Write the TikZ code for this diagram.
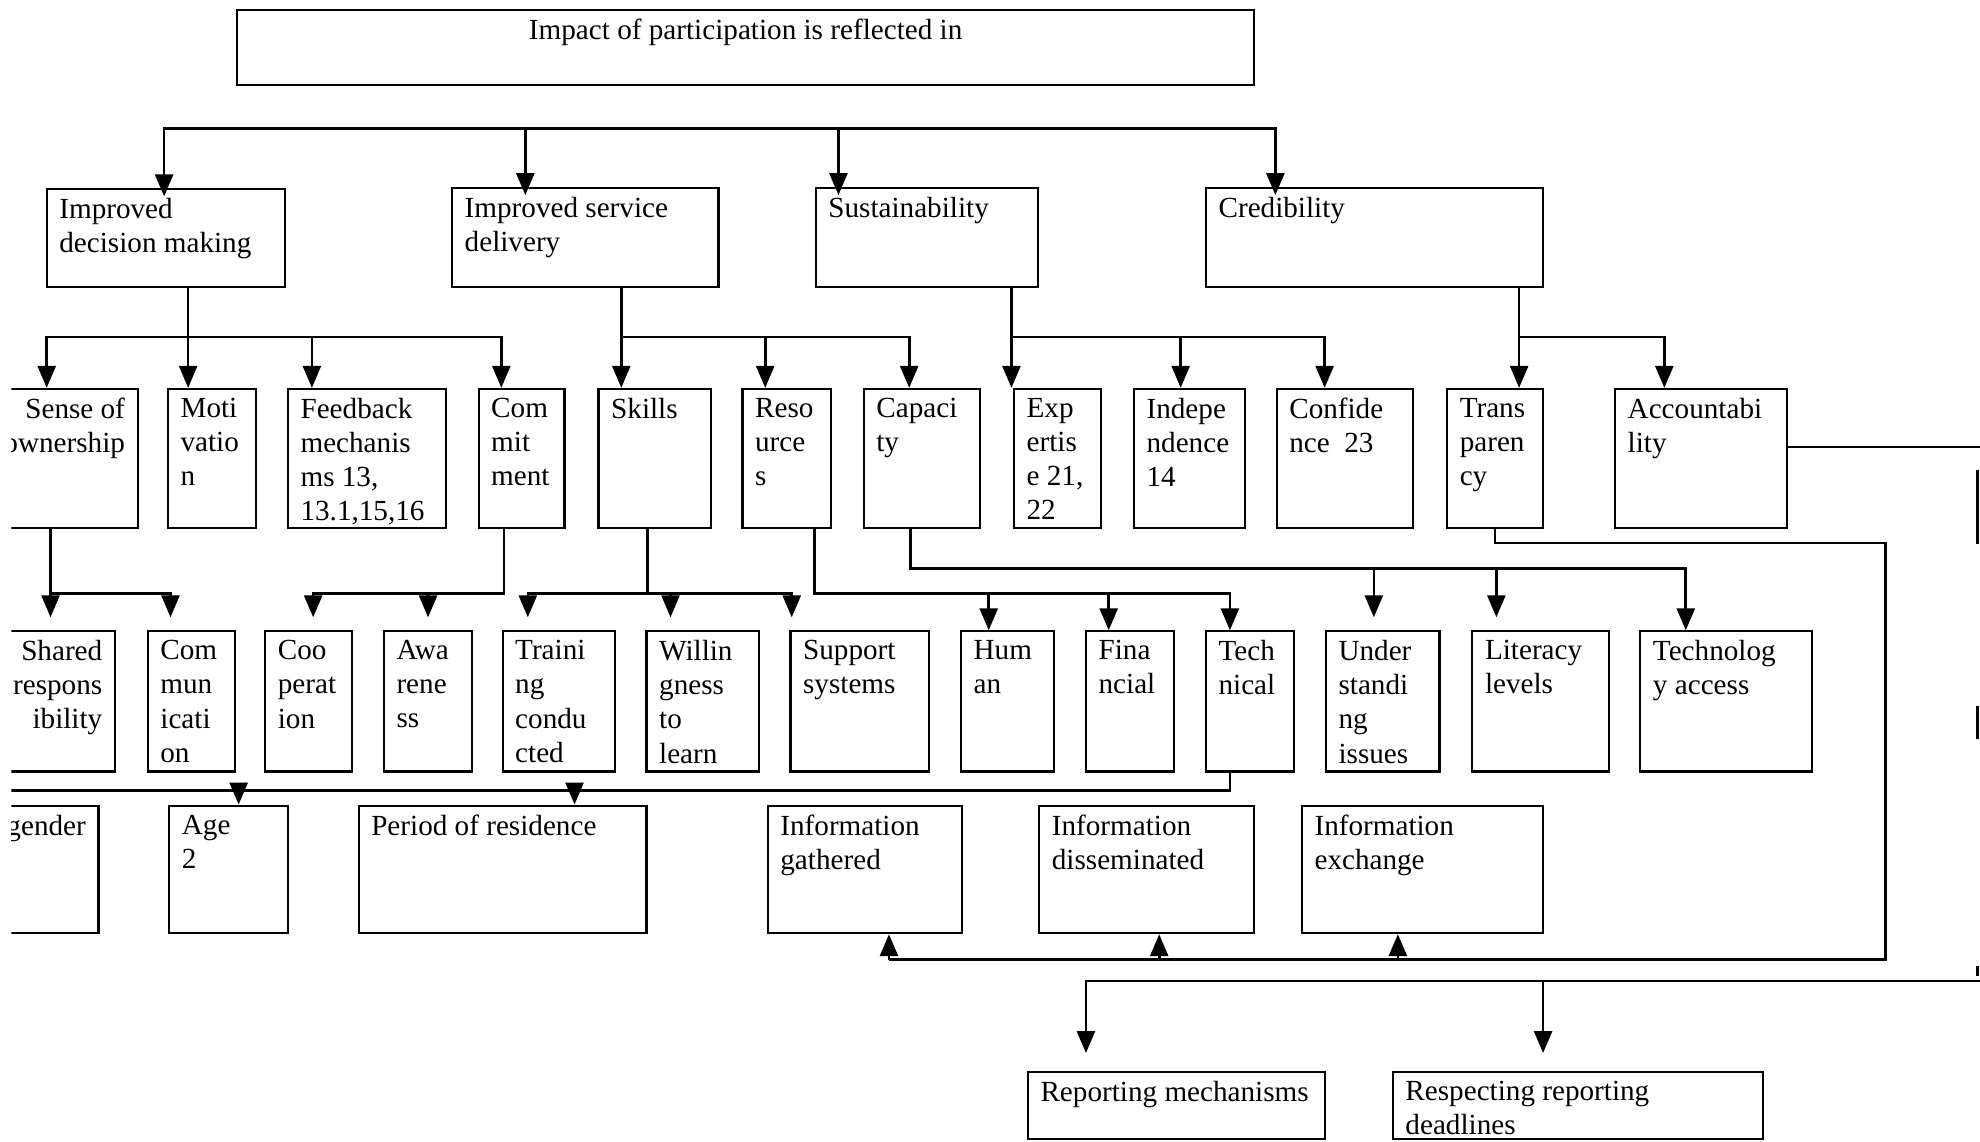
\documentclass[tikz,border=0pt]{standalone}
\usepackage{fontspec}
\setmainfont{Liberation Serif}
\usetikzlibrary{arrows.meta,fit}
\tikzset{
    box/.style={draw, line width=0.6pt, inner sep=0pt},
    txt/.style={anchor=north west, align=left, inner sep=0pt, xshift=1.3mm, yshift=-0.95mm},
    txtr/.style={anchor=north east, align=right, inner sep=0pt, xshift=-1.3mm, yshift=-0.95mm},
    link/.style={line width=0.75pt},
    arr/.style={link, -{Triangle[length=2.2mm, width=1.8mm]}},
    arrin/.style={arr, shorten >=-0.8mm},
    arrs/.style={arr, shorten >=1.3mm},
    arrlong/.style={arr, shorten >=1.8mm}
}
\begin{document}
\begin{tikzpicture}[x=0.12628mm, y=-0.12628mm, font=\fontsize{8.3}{9.7}\selectfont]
    \useasboundingbox (0,0) rectangle (1568,904);
    \clip (9,-10) rectangle (1568,914);
    \node[box, fit={(188,8) (993,67)}] (impact) {};
    \node[anchor=north, inner sep=0pt, yshift=-0.95mm] (timpact) at (impact.north) {Impact of participation is reflected in};
    \node[box, fit={(37,150) (226,227)}] (idm) {};
    \node[txt] (tidm) at (idm.north west) {Improved\\decision making};
    \node[box, fit={(358,149) (569,227)}] (isd) {};
    \node[txt] (tisd) at (isd.north west) {Improved service\\delivery};
    \node[box, fit={(646,149) (822,227)}] (sust) {};
    \node[txt] (tsust) at (sust.north west) {Sustainability};
    \node[box, fit={(955,149) (1222,227)}] (cred) {};
    \node[txt] (tcred) at (cred.north west) {Credibility};
    \node[box, fit={(-20,308) (109,418)}] (sense) {};
    \node[txtr] (tsense) at (sense.north east) {Sense of\\ownership};
    \node[box, fit={(133,308) (203,418)}] (motiv) {};
    \node[txt] (tmotiv) at (motiv.north west) {Moti\\vatio\\n};
    \node[box, fit={(228,308) (353,418)}] (feedb) {};
    \node[txt] (tfeedb) at (feedb.north west) {Feedback\\mechanis\\ms 13,\\13.1,15,16};
    \node[box, fit={(379,308) (447,418)}] (commit) {};
    \node[txt] (tcommit) at (commit.north west) {Com\\mit\\ment};
    \node[box, fit={(474,308) (563,418)}] (skills) {};
    \node[txt] (tskills) at (skills.north west) {Skills};
    \node[box, fit={(588,308) (658,418)}] (resour) {};
    \node[txt] (tresour) at (resour.north west) {Reso\\urce\\s};
    \node[box, fit={(684,308) (776,418)}] (capac) {};
    \node[txt] (tcapac) at (capac.north west) {Capaci\\ty};
    \node[box, fit={(803,308) (872,418)}] (expert) {};
    \node[txt] (texpert) at (expert.north west) {Exp\\ertis\\e 21,\\22};
    \node[box, fit={(898,308) (986,418)}] (indep) {};
    \node[txt] (tindep) at (indep.north west) {Indepe\\ndence\\14};
    \node[box, fit={(1011,308) (1119,418)}] (confid) {};
    \node[txt] (tconfid) at (confid.north west) {Confide\\nce~ 23};
    \node[box, fit={(1146,308) (1222,418)}] (transp) {};
    \node[txt] (ttransp) at (transp.north west) {Trans\\paren\\cy};
    \node[box, fit={(1279,308) (1415,418)}] (account) {};
    \node[txt] (taccount) at (account.north west) {Accountabi\\lity};
    \node[box, fit={(-20,500) (91,611)}] (shared) {};
    \node[txtr] (tshared) at (shared.north east) {Shared\\respons\\ibility};
    \node[box, fit={(117,500) (186,611)}] (commun) {};
    \node[txt] (tcommun) at (commun.north west) {Com\\mun\\icati\\on};
    \node[box, fit={(210,500) (279,611)}] (coop) {};
    \node[txt] (tcoop) at (coop.north west) {Coo\\perat\\ion};
    \node[box, fit={(304,500) (374,611)}] (aware) {};
    \node[txt] (taware) at (aware.north west) {Awa\\rene\\ss};
    \node[box, fit={(398,500) (487,611)}] (train) {};
    \node[txt] (ttrain) at (train.north west) {Traini\\ng\\condu\\cted};
    \node[box, fit={(512,500) (601,611)}] (willing) {};
    \node[txt] (twilling) at (willing.north west) {Willin\\gness\\to\\learn};
    \node[box, fit={(626,500) (736,611)}] (support) {};
    \node[txt] (tsupport) at (support.north west) {Support\\systems};
    \node[box, fit={(761,500) (835,611)}] (human) {};
    \node[txt] (thuman) at (human.north west) {Hum\\an};
    \node[box, fit={(860,500) (930,611)}] (finan) {};
    \node[txt] (tfinan) at (finan.north west) {Fina\\ncial};
    \node[box, fit={(955,500) (1025,611)}] (techn) {};
    \node[txt] (ttechn) at (techn.north west) {Tech\\nical};
    \node[box, fit={(1050,500) (1140,611)}] (under) {};
    \node[txt] (tunder) at (under.north west) {Under\\standi\\ng\\issues};
    \node[box, fit={(1166,500) (1274,611)}] (liter) {};
    \node[txt] (tliter) at (liter.north west) {Literacy\\levels};
    \node[box, fit={(1299,500) (1435,611)}] (techacc) {};
    \node[txt] (ttechacc) at (techacc.north west) {Technolog\\y access};
    \node[box, fit={(-20,638) (78,739)}] (gender) {};
    \node[txtr] (tgender) at (gender.north east) {gender};
    \node[box, fit={(134,638) (228,739)}] (age) {};
    \node[txt] (tage) at (age.north west) {Age\\2};
    \node[box, fit={(284,638) (512,739)}] (period) {};
    \node[txt] (tperiod) at (period.north west) {Period of residence};
    \node[box, fit={(608,638) (762,739)}] (infog) {};
    \node[txt] (tinfog) at (infog.north west) {Information\\gathered};
    \node[box, fit={(823,638) (993,739)}] (infod) {};
    \node[txt] (tinfod) at (infod.north west) {Information\\disseminated};
    \node[box, fit={(1031,638) (1222,739)}] (infoe) {};
    \node[txt] (tinfoe) at (infoe.north west) {Information\\exchange};
    \node[box, fit={(814,849) (1049,902)}] (repmech) {};
    \node[txt] (trepmech) at (repmech.north west) {Reporting mechanisms};
    \node[box, fit={(1103,849) (1396,902)}] (respdl) {};
    \node[txt] (trespdl) at (respdl.north west) {Respecting reporting\\deadlines};
    \draw[arrin] (664,102) -| (130,0 |- idm.north);
    \draw[arrin] (664,102) -| (1010,0 |- cred.north);
    \draw[arrin] (416,102) -- (416,0 |- isd.north);
    \draw[arrin] (664,102) -- (664,0 |- sust.north);
    \draw[arr] (149,0 |- idm.south) -- (149,0 |- motiv.north);
    \draw[arr] (247,267) -| (37,0 |- sense.north);
    \draw[arr] (247,267) -| (397,0 |- commit.north);
    \draw[arr] (247,267) -- (247,0 |- feedb.north);
    \draw[arr] (492,0 |- isd.south) -- (492,0 |- skills.north);
    \draw[arr] (492,267) -| (720,0 |- capac.north);
    \draw[arr] (606,267) -- (606,0 |- resour.north);
    \draw[arr] (801,0 |- sust.south) -- (801,0 |- expert.north);
    \draw[arr] (801,267) -| (1049,0 |- confid.north);
    \draw[arr] (935,267) -- (935,0 |- indep.north);
    \draw[arr] (1203,0 |- cred.south) -- (1203,0 |- transp.north);
    \draw[arr] (1203,267) -| (1318,0 |- account.north);
    \draw[arrs] (40,0 |- sense.south) -- (40,0 |- shared.north);
    \draw[arrs] (40,470) -| (135,0 |- commun.north);
    \draw[arrs] (399,0 |- commit.south) |- (248,470) -- (248,0 |- coop.north);
    \draw[arrs] (339,470) -- (339,0 |- aware.north);
    \draw[link] (513,0 |- skills.south) -- (513,470);
    \draw[arrs] (513,470) -| (418,0 |- train.north);
    \draw[arrs] (513,470) -| (627,0 |- support.north);
    \draw[arrs] (531,470) -- (531,0 |- willing.north);
    \draw[arr] (645,0 |- resour.south) |- (974,470) -- (974,0 |- techn.north);
    \draw[arr] (783,470) -- (783,0 |- human.north);
    \draw[arr] (878,470) -- (878,0 |- finan.north);
    \draw[arr] (721,0 |- capac.south) |- (1335,450) -- (1335,0 |- techacc.north);
    \draw[arrs] (1088,450) -- (1088,0 |- under.north);
    \draw[arrs] (1185,450) -- (1185,0 |- liter.north);
    \draw[link] (1184,0 |- transp.south) |- (1493,430) |- (704,760);
    \draw[arr] (704,760) -- (704,0 |- infog.south);
    \draw[arr] (918,760) -- (918,0 |- infod.south);
    \draw[arr] (1107,760) -- (1107,0 |- infoe.south);
    \draw[link] (974,0 |- techn.south) |- (0,626);
    \draw[arr] (189,626) -- (189,0 |- age.north);
    \draw[arr] (455,626) -- (455,0 |- period.north);
    \draw[link] (account.east |- 0,354) -- (1568,354);
    \draw[arrlong] (1568,777) -| (860,0 |- repmech.north);
    \draw[arrlong] (1222,777) -- (1222,0 |- respdl.north);
    \draw[link] (1566,372) -- (1566,431);
    \draw[link] (1566,559) -- (1566,585);
    \draw[link] (1566,765) -- (1566,773);
\end{tikzpicture}
\end{document}
